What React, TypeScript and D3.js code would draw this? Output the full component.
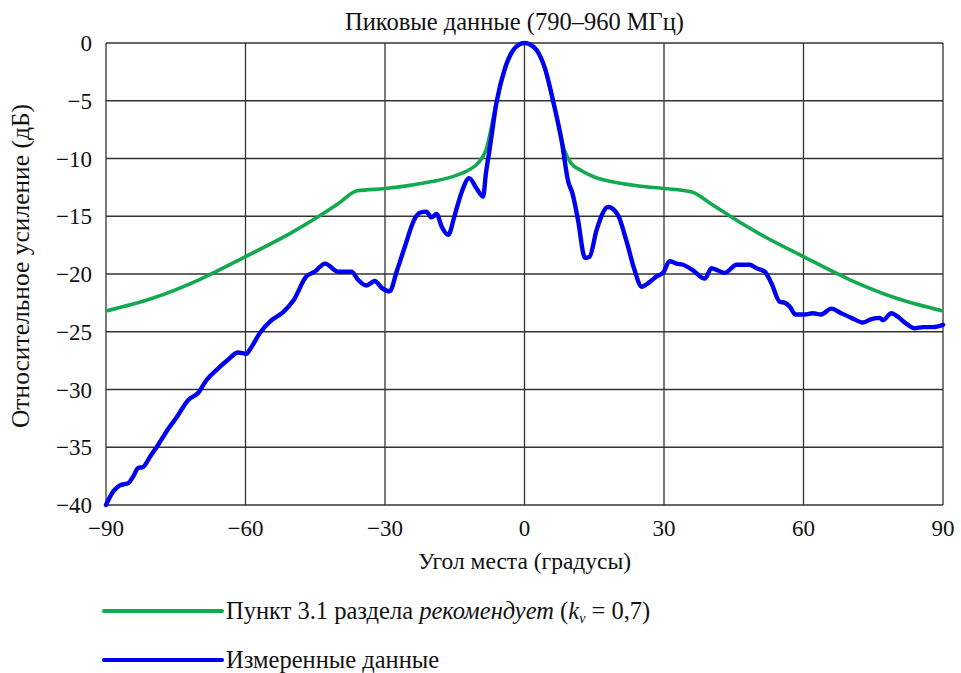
import React, { useEffect, useRef } from 'react';
import * as d3 from 'd3';

// angles (deg) and relative gain (dB)
const greenAngles = [-90, -80, -70, -60, -50, -45, -40, -36, -30, -25, -20, -15, -12, -10, -8.3, -6, -4.2, -2.4, -1.2, 0, 1.3, 2.6, 4.4, 6.2, 8.6, 10, 12, 15, 20, 25, 30, 36, 40, 45, 50, 60, 70, 80, 90];
const greenGain = [-23.2, -22.1, -20.5, -18.5, -16.4, -15.2, -13.9, -12.8, -12.6, -12.35, -12.0, -11.5, -11.0, -10.4, -9.3, -5.1, -2.2, -0.6, -0.15, 0, -0.15, -0.6, -2.2, -5.1, -9.3, -10.4, -11.0, -11.6, -12.1, -12.4, -12.6, -12.9, -13.9, -15.2, -16.4, -18.5, -20.5, -22.1, -23.2];

const blueAngles = [-90, -88.4, -87.0, -85.2, -84.1, -83.1, -82.0, -80.5, -78.8, -76.6, -74.8, -72.3, -70.2, -68.4, -66.2, -63.7, -61.6, -59.8, -59.0, -56.9, -54.4, -51.9, -49.7, -46.9, -45.1, -42.9, -40.1, -37.2, -35.8, -34.0, -32.2, -30.7, -29.0, -27.5, -25.7, -23.6, -22.5, -21.1, -20.0, -18.9, -17.8, -16.4, -15.0, -13.5, -11.9, -10.3, -8.9, -8.3, -7.5, -6.0, -4.2, -2.4, -1.2, 0, 1.3, 2.6, 4.4, 6.2, 8.0, 9.4, 10.3, 11.5, 13.0, 14.0, 15.5, 18.0, 20.1, 21.9, 23.7, 25.2, 26.9, 28.4, 29.8, 31.2, 32.7, 34.1, 36.3, 38.8, 40.2, 41.6, 43.1, 45.6, 47.0, 48.4, 49.9, 51.7, 53.1, 54.9, 56.0, 57.0, 58.3, 60.3, 62.0, 63.8, 66.0, 68.1, 70.3, 72.8, 74.6, 76.4, 77.1, 78.9, 80.3, 82.1, 83.9, 85.7, 87.8, 90];
const blueGain = [-40, -38.8, -38.3, -38.1, -37.5, -36.8, -36.7, -35.8, -34.8, -33.4, -32.4, -30.9, -30.3, -29.2, -28.3, -27.4, -26.8, -26.9, -26.5, -25.1, -24.0, -23.3, -22.3, -20.2, -19.8, -19.1, -19.8, -19.8, -20.5, -21.0, -20.6, -21.2, -21.5, -19.8, -17.6, -15.2, -14.7, -14.6, -15.1, -14.8, -15.9, -16.6, -14.9, -12.9, -11.7, -12.6, -13.3, -11.3, -9.2, -5.1, -2.2, -0.6, -0.15, 0, -0.15, -0.6, -2.2, -5.1, -8.5, -12.0, -13.0, -15.3, -18.6, -18.5, -16.2, -14.2, -14.9, -17.1, -19.7, -21.1, -20.7, -20.2, -19.9, -18.9, -19.1, -19.2, -19.7, -20.4, -19.5, -19.7, -19.9, -19.2, -19.2, -19.2, -19.5, -19.8, -20.8, -22.4, -22.5, -22.8, -23.5, -23.5, -23.4, -23.5, -23.0, -23.4, -23.8, -24.2, -23.9, -23.8, -24.0, -23.4, -23.7, -24.3, -24.7, -24.6, -24.6, -24.4];

const xTicks = [-90, -60, -30, 0, 30, 60, 90];
const yTicks = [0, -5, -10, -15, -20, -25, -30, -35, -40];

const title = 'Пиковые данные (790–960 МГц)';
const xLabel = 'Угол места (градусы)';
const yLabel = 'Относительное усиление (дБ)';

const W = 961;
const H = 673;
const margin = { top: 43, right: 18, bottom: 168, left: 106 };
const FONT = "'Liberation Serif', 'Times New Roman', Tinos, serif";
const GREEN = '#12a94f';
const BLUE = '#0000f0';
const GRID = '#333';
const INK = '#111';

const fmt = (v: number) => (v < 0 ? '\u2212' + Math.abs(v) : String(v));

const App: React.FC = () => {
  const svgRef = useRef<SVGSVGElement>(null);

  useEffect(() => {
    if (!svgRef.current) return;
    d3.select(svgRef.current)
      .selectAll<SVGTextElement, unknown>('text, tspan')
      .each(function () {
        this.style.setProperty('font-family', FONT, 'important');
      });
  }, []);

  const x = d3.scaleLinear().domain([-90, 90]).range([margin.left, W - margin.right]);
  const y = d3.scaleLinear().domain([-40, 0]).range([H - margin.bottom, margin.top]);

  const line = d3.line<[number, number]>()
    .x(d => x(d[0]))
    .y(d => y(d[1]))
    .curve(d3.curveMonotoneX);

  const green = greenAngles.map((a, i) => [a, greenGain[i]] as [number, number]);
  const blue = blueAngles.map((a, i) => [a, blueGain[i]] as [number, number]);

  const [x0, x1] = x.range();
  const [yb, yt] = y.range();
  const cx = (x0 + x1) / 2;

  return (
    <svg
      ref={svgRef}
      id="chart-svg"
      width={W}
      height={H}
      style={{ position: 'absolute', left: 0, top: 0, background: '#fff' }}
    >
      <style>{`#chart-svg text, #chart-svg tspan { font-family: ${FONT} !important; }`}</style>
      <rect x={0} y={0} width={W} height={H} fill="#fff" />

      {/* grid */}
      {xTicks.map(t => (
        <line key={'gx' + t} x1={x(t)} x2={x(t)} y1={yt} y2={yb} stroke={GRID} strokeWidth={1.3} />
      ))}
      {yTicks.map(t => (
        <line key={'gy' + t} x1={x0} x2={x1} y1={y(t)} y2={y(t)} stroke={GRID} strokeWidth={1.3} />
      ))}

      {/* curves */}
      <path d={line(green) || ''} fill="none" stroke={GREEN} strokeWidth={3.6} strokeLinejoin="round" />
      <path d={line(blue) || ''} fill="none" stroke={BLUE} strokeWidth={4.4} strokeLinejoin="round" strokeLinecap="round" />

      {/* tick labels */}
      {yTicks.map(t => (
        <text key={'ty' + t} x={x0 - 14} y={y(t) + 8} textAnchor="end" fontSize={23} fill={INK}>
          {fmt(t)}
        </text>
      ))}
      {xTicks.map(t => (
        <text key={'tx' + t} x={x(t)} y={yb + 31} textAnchor="middle" fontSize={23} fill={INK}>
          {fmt(t)}
        </text>
      ))}

      {/* titles */}
      <text x={cx - 10} y={30} textAnchor="middle" fontSize={24.5} fill={INK}>{title}</text>
      <text x={cx} y={569} textAnchor="middle" fontSize={23.5} fill={INK}>{xLabel}</text>
      <text
        transform={`translate(29,${(yt + yb) / 2 - 8}) rotate(-90)`}
        textAnchor="middle"
        fontSize={25.5}
        fill={INK}
      >
        {yLabel}
      </text>

      {/* legend */}
      <line x1={104} x2={222} y1={611} y2={611} stroke={GREEN} strokeWidth={4} strokeLinecap="round" />
      <text x={226} y={619} fontSize={24.5} fill={INK}>
        Пункт 3.1 раздела <tspan fontStyle="italic">рекомендует</tspan> (<tspan fontStyle="italic">k</tspan>
        <tspan fontStyle="italic" fontSize={14} dy={4}>v</tspan>
        <tspan dy={-4}> = 0,7)</tspan>
      </text>
      <line x1={104} x2={222} y1={660} y2={660} stroke={BLUE} strokeWidth={4} strokeLinecap="round" />
      <text x={226} y={668} fontSize={24.5} fill={INK}>Измеренные данные</text>
    </svg>
  );
};

export default App;
